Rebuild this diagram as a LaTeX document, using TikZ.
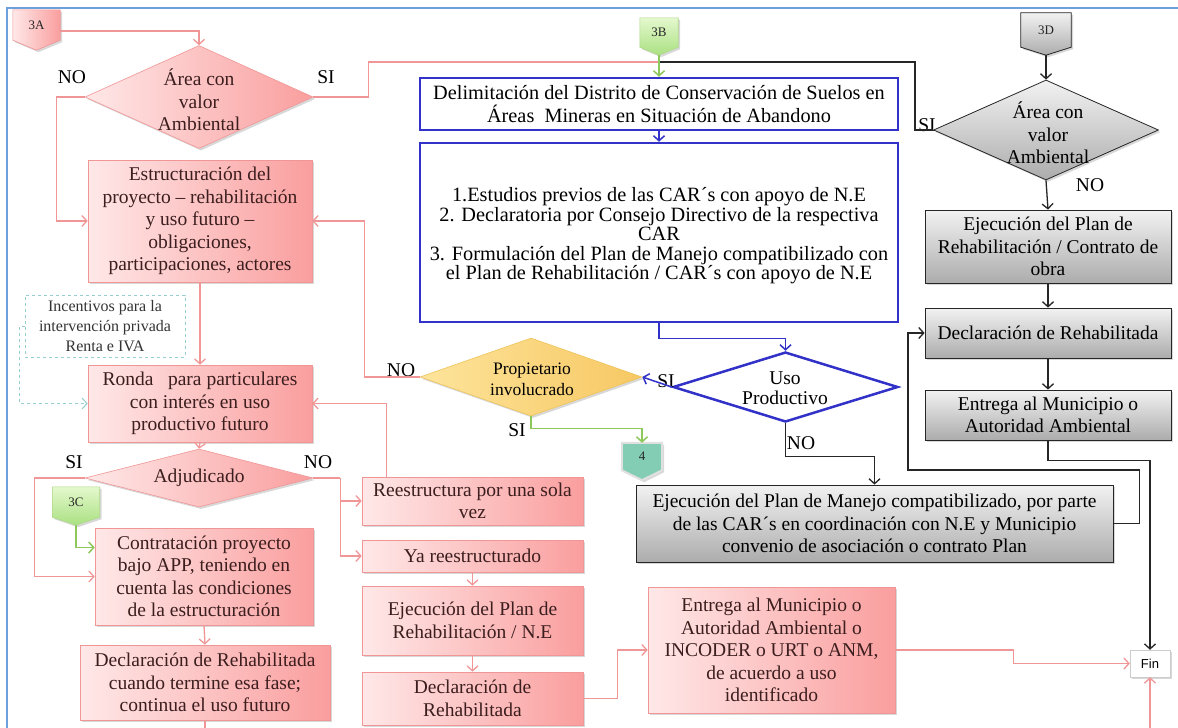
\documentclass[tikz,border=0pt]{standalone}
\usepackage{fontspec}
\setmainfont{Liberation Serif}
\newfontfamily\finfont{Liberation Sans}
\usetikzlibrary{shapes.geometric,arrows.meta,shadows,calc,backgrounds}

\definecolor{frameblue}{RGB}{110,160,220}
\definecolor{pinkline}{RGB}{240,150,150}
\definecolor{pinkL}{RGB}{255,232,232}
\definecolor{pinkR}{RGB}{250,158,158}
\definecolor{pinktext}{RGB}{60,30,30}
\definecolor{flowblue}{RGB}{50,50,200}
\definecolor{goldL}{RGB}{253,228,155}
\definecolor{goldR}{RGB}{247,200,100}
\definecolor{goldline}{RGB}{238,195,90}
\definecolor{greenL}{RGB}{228,248,205}
\definecolor{greenR}{RGB}{170,225,130}
\definecolor{greenline}{RGB}{140,200,90}
\definecolor{tealfill}{RGB}{130,205,180}
\definecolor{dashteal}{RGB}{150,205,205}
\definecolor{greyT}{RGB}{242,242,242}
\definecolor{greyB}{RGB}{172,172,172}

\tikzset{
  base/.style={font=\fontsize{19.5}{22.5}\selectfont, align=center, inner sep=0pt},
  softshadow/.style={drop shadow={shadow xshift=2pt, shadow yshift=-2pt, opacity=0.3}},
  pinkbox/.style={base, rectangle, draw=pinkline, line width=0.6pt,
    left color=pinkL, right color=pinkR, text=pinktext, softshadow},
  greybox/.style={base, rectangle, draw=black!85, line width=0.8pt,
    top color=greyT, bottom color=greyB, softshadow},
  bluebox/.style={base, rectangle, draw=flowblue, line width=2.5pt, fill=white,
    font=\fontsize{20.3}{22.5}\selectfont},
  incbox/.style={rectangle, draw=dashteal, dashed, line width=0.8pt, fill=white,
    align=center, inner sep=0pt, font=\fontsize{16}{20}\selectfont, text=black!80},
  pdiam/.style={diamond, inner sep=0pt, draw=pinkline, line width=0.6pt,
    left color=pinkL, right color=pinkR, softshadow},
  gdiam/.style={diamond, inner sep=0pt, draw=goldline, line width=0.6pt,
    left color=goldL, right color=goldR, softshadow},
  bdiam/.style={diamond, inner sep=0pt, draw=flowblue, line width=2.5pt, fill=white},
  greydiam/.style={diamond, inner sep=0pt, draw=black!85, line width=0.8pt,
    top color=greyT, bottom color=greyB, softshadow},
  lbl/.style={base, text=black},
  offp/.style={font=\fontsize{13}{15}\selectfont, inner sep=0pt, text=black!85},
  finbox/.style={rectangle, draw=black!20, fill=white, inner sep=0pt,
    font=\finfont\fontsize{13}{15}\selectfont, softshadow},
  tip/.style={-{Straight Barb[length=5pt,width=11pt]}},
  pk/.style={draw=pinkline, line width=1.3pt, tip},
  pkplain/.style={draw=pinkline, line width=1.3pt},
  blk/.style={draw=black!85, line width=1.3pt, tip},
  blkplain/.style={draw=black!85, line width=1.3pt},
  bl/.style={draw=flowblue, line width=1.5pt, tip},
  gr/.style={draw=greenline, line width=1.5pt, tip},
  dsh/.style={draw=dashteal, dashed, line width=1pt, tip}
}

\begin{document}
\begin{tikzpicture}[x=1pt,y=-1pt]
\useasboundingbox (0,0) rectangle (1178,728);
\begin{scope}[on background layer]
  \fill[white] (0,0) rectangle (1178,728);
\end{scope}
\clip (0,0) rectangle (1178,728);
\draw[frameblue, line width=1.2pt] (7,740) -- (7,8) -- (1190,8);

% ---------- off-page connectors ----------
\node[offp, minimum width=47, minimum height=30] (c3A) at (36.5,25) {3A};
\node[offp, minimum width=38, minimum height=29] (c3B) at (659,32.5) {3B};
\node[offp, minimum width=47, minimum height=30] (c3C) at (76,502) {3C};
\node[offp, minimum width=50, minimum height=34] (c3D) at (1046,30) {3D};
\node[offp, minimum width=40, minimum height=27] (c4) at (642,456.5) {4};
\coordinate (c3Atip) at ($(c3A.south)+(0,10)$);
\coordinate (c3Btip) at ($(c3B.south)+(0,8)$);
\coordinate (c3Ctip) at ($(c3C.south)+(0,8)$);
\coordinate (c3Dtip) at ($(c3D.south)+(0,8)$);
\coordinate (c4tip) at ($(c4.south)+(0,10)$);
\begin{scope}[on background layer]
  \path[draw=pinkline, line width=0.6pt, left color=pinkL, right color=pinkR, softshadow]
    (c3A.north west) -- (c3A.north east) -- (c3A.south east) -- (c3Atip) -- (c3A.south west) -- cycle;
  \path[draw=greenline!70, line width=0.6pt, top color=greenL, bottom color=greenR, softshadow]
    (c3B.north west) -- (c3B.north east) -- (c3B.south east) -- (c3Btip) -- (c3B.south west) -- cycle;
  \path[draw=greenline!70, line width=0.6pt, top color=greenL, bottom color=greenR, softshadow]
    (c3C.north west) -- (c3C.north east) -- (c3C.south east) -- (c3Ctip) -- (c3C.south west) -- cycle;
  \path[draw=black!85, line width=0.8pt, top color=greyT, bottom color=greyB, softshadow]
    (c3D.north west) -- (c3D.north east) -- (c3D.south east) -- (c3Dtip) -- (c3D.south west) -- cycle;
  \path[draw=black!12, line width=2pt, fill=tealfill, softshadow]
    (c4.north west) -- (c4.north east) -- (c4.south east) -- (c4tip) -- (c4.south west) -- cycle;
\end{scope}

% ---------- left column ----------
\node[pdiam, minimum width=228, minimum height=103] (d1) at (199,97) {};
\node[base, text=pinktext] (d1t) at (199,100) {Área con\\valor\\Ambiental};
\node[pinkbox, minimum width=224, minimum height=122] (estr) at (200,221)
  {Estructuración del\\proyecto – rehabilitación\\y uso futuro –\\obligaciones,\\participaciones, actores};
\node[incbox, minimum width=160, minimum height=62] (inc) at (105,326)
  {Incentivos para la\\intervención privada\\Renta e IVA};
\node[pinkbox, minimum width=224, minimum height=77] (ronda) at (200,403.5)
  {Ronda\ \ \ para particulares\\con interés en uso\\productivo futuro};
\node[pdiam, minimum width=228, minimum height=58] (adj) at (199,478) {};
\node[base, text=pinktext] (adjt) at (199,478) {Adjudicado};
\node[pinkbox, minimum width=218, minimum height=97] (contr) at (204,576.5)
  {Contratación proyecto\\bajo APP, teniendo en\\cuenta las condiciones\\de la estructuración};
\node[pinkbox, minimum width=250, minimum height=75] (decl1) at (205,682.5)
  {Declaración de Rehabilitada\\cuando termine esa fase;\\continua el uso futuro};

% ---------- middle column ----------
\node[pinkbox, minimum width=221, minimum height=48] (reest) at (472.5,501) {Reestructura por una sola\\vez};
\node[pinkbox, minimum width=221, minimum height=32] (ya) at (472.5,556) {Ya reestructurado};
\node[pinkbox, minimum width=221, minimum height=69] (ejr) at (472.5,620.5) {Ejecución del Plan de\\Rehabilitación / N.E};
\node[pinkbox, minimum width=221, minimum height=53] (decl2) at (472.5,698.5) {Declaración de\\Rehabilitada};
\node[pinkbox, minimum width=247, minimum height=126] (entr) at (771.5,650)
  {Entrega al Municipio o\\Autoridad Ambiental o\\INCODER o URT o ANM,\\de acuerdo a uso\\identificado};

\node[bluebox, minimum width=478, minimum height=52] (delim) at (659,104)
  {Delimitación del Distrito de Conservación de Suelos en\\Áreas\ \ Mineras en Situación de Abandono};
\node[bluebox, minimum width=478, minimum height=179] (steps) at (659,232.5) {};
\node[base, font=\fontsize{20.3}{19.5}\selectfont] (stepst) at (659,236)
  {1.Estudios previos de las CAR´s con apoyo de N.E\\2. Declaratoria por Consejo Directivo de la respectiva\\CAR\\3. Formulación del Plan de Manejo compatibilizado con\\el Plan de Rehabilitación / CAR´s con apoyo de N.E};

\node[gdiam, minimum width=222, minimum height=78] (prop) at (531,377) {};
\node[base, font=\fontsize{17.5}{21}\selectfont] (propt) at (532,379) {Propietario\\involucrado};
\node[bdiam, minimum width=225, minimum height=70] (uso) at (785.5,387) {};
\node[base, font=\fontsize{19.5}{20}\selectfont] (usot) at (785,388) {Uso\\Productivo};

% ---------- right column ----------
\node[greydiam, minimum width=225, minimum height=100] (d3D) at (1046,130) {};
\node[base] (d3Dt) at (1048,133) {Área con\\valor\\Ambiental};
\node[greybox, minimum width=246, minimum height=73] (ejg) at (1048,246.5)
  {Ejecución del Plan de\\Rehabilitación / Contrato de\\obra};
\node[greybox, minimum width=246, minimum height=50] (declg) at (1048,333) {Declaración de Rehabilitada};
\node[greybox, minimum width=246, minimum height=50] (entrg) at (1048,415) {Entrega al Municipio o\\Autoridad Ambiental};
\node[greybox, minimum width=477, minimum height=77] (ejm) at (874.5,523.5)
  {Ejecución del Plan de Manejo compatibilizado, por parte\\de las CAR´s en coordinación con N.E y Municipio\\convenio de asociación o contrato Plan};
\node[finbox, minimum width=40, minimum height=27] (fin) at (1150,663.5) {Fin};

% ---------- branch labels ----------
\node[lbl] (n1) at (72,77) {NO};
\node[lbl] (s1) at (326,77) {SI};
\node[lbl] (s3d) at (927,125) {SI};
\node[lbl] (n3d) at (1090,185) {NO};
\node[lbl] (nprop) at (401,370) {NO};
\node[lbl] (sprop) at (517,430) {SI};
\node[lbl] (suso) at (666,381) {SI};
\node[lbl] (nuso) at (801,443) {NO};
\node[lbl] (sadj) at (74,462) {SI};
\node[lbl] (nadj) at (318,462) {NO};

% ---------- connectors ----------
\coordinate (j3B) at (659,62);
\draw[pk] ([yshift=-6pt]c3A.east) -| (d1.north);
\draw[pk] (d1.west) -- ++(-28,0) |- (estr.west);
\draw[pkplain] (d1.east) -- ++(55,0) |- (j3B);
\draw[blkplain] (d3D.west) -- ++(-18,0) |- (j3B);
\draw[gr] (c3Btip) -- (delim.north);
\draw[bl] (delim.south) -- (steps.north);
\draw[bl] (steps.south) -- ++(0,15) -| (uso.north);
\draw[bl] (uso.west) -- (prop.east);
\draw[pk] (prop.west) -- ++(-55,0) |- (estr.east);
\draw[gr] (prop.south) -- ++(0,12) -| (c4.north);
\draw[blk] (uso.south) -- ++(0,33) -| (ejm.north);

\draw[pk] (estr.south) -- (ronda.north);
\draw[dsh] (inc.west) -- ++(-5,0) |- (ronda.west);
\draw[pk] ([xshift=25pt]reest.north west) |- (ronda.east);
\draw[pk] (ronda.south) -- (adj.north);
\draw[pk] (adj.west) -- ++(-50,0) |- (contr.west);
\draw[pkplain] (adj.east) -- ++(27,0) coordinate (adjno);
\draw[pk] (adjno) |- (reest.west);
\draw[pk] (adjno) |- (ya.west);
\draw[gr] (c3Ctip) |- ([yshift=29pt]contr.west);
\draw[pk] (contr.south) -- (decl1.north);
\draw[pk] (decl1.south) -- ++(0,40) -| (fin.south);
\draw[pk] (ya.south) -- (ejr.north);
\draw[pk] (ejr.south) -- (decl2.north);
\draw[pk] (decl2.east) -- ++(34,0) |- (entr.west);
\draw[pk] (entr.east) -- ++(118,0) |- (fin.west);

\draw[blk] (c3Dtip) -- (d3D.north);
\draw[blk] (d3D.south) -- (ejg.north);
\draw[blk] (ejg.south) -- (declg.north);
\draw[blk] (declg.south) -- (entrg.north);
\draw[blk] (entrg.south) -- ++(0,20) -| (fin.north);
\draw[blk] (ejm.east) -- ++(26,0) |- (908,470) |- (declg.west);
\end{tikzpicture}
\end{document}
